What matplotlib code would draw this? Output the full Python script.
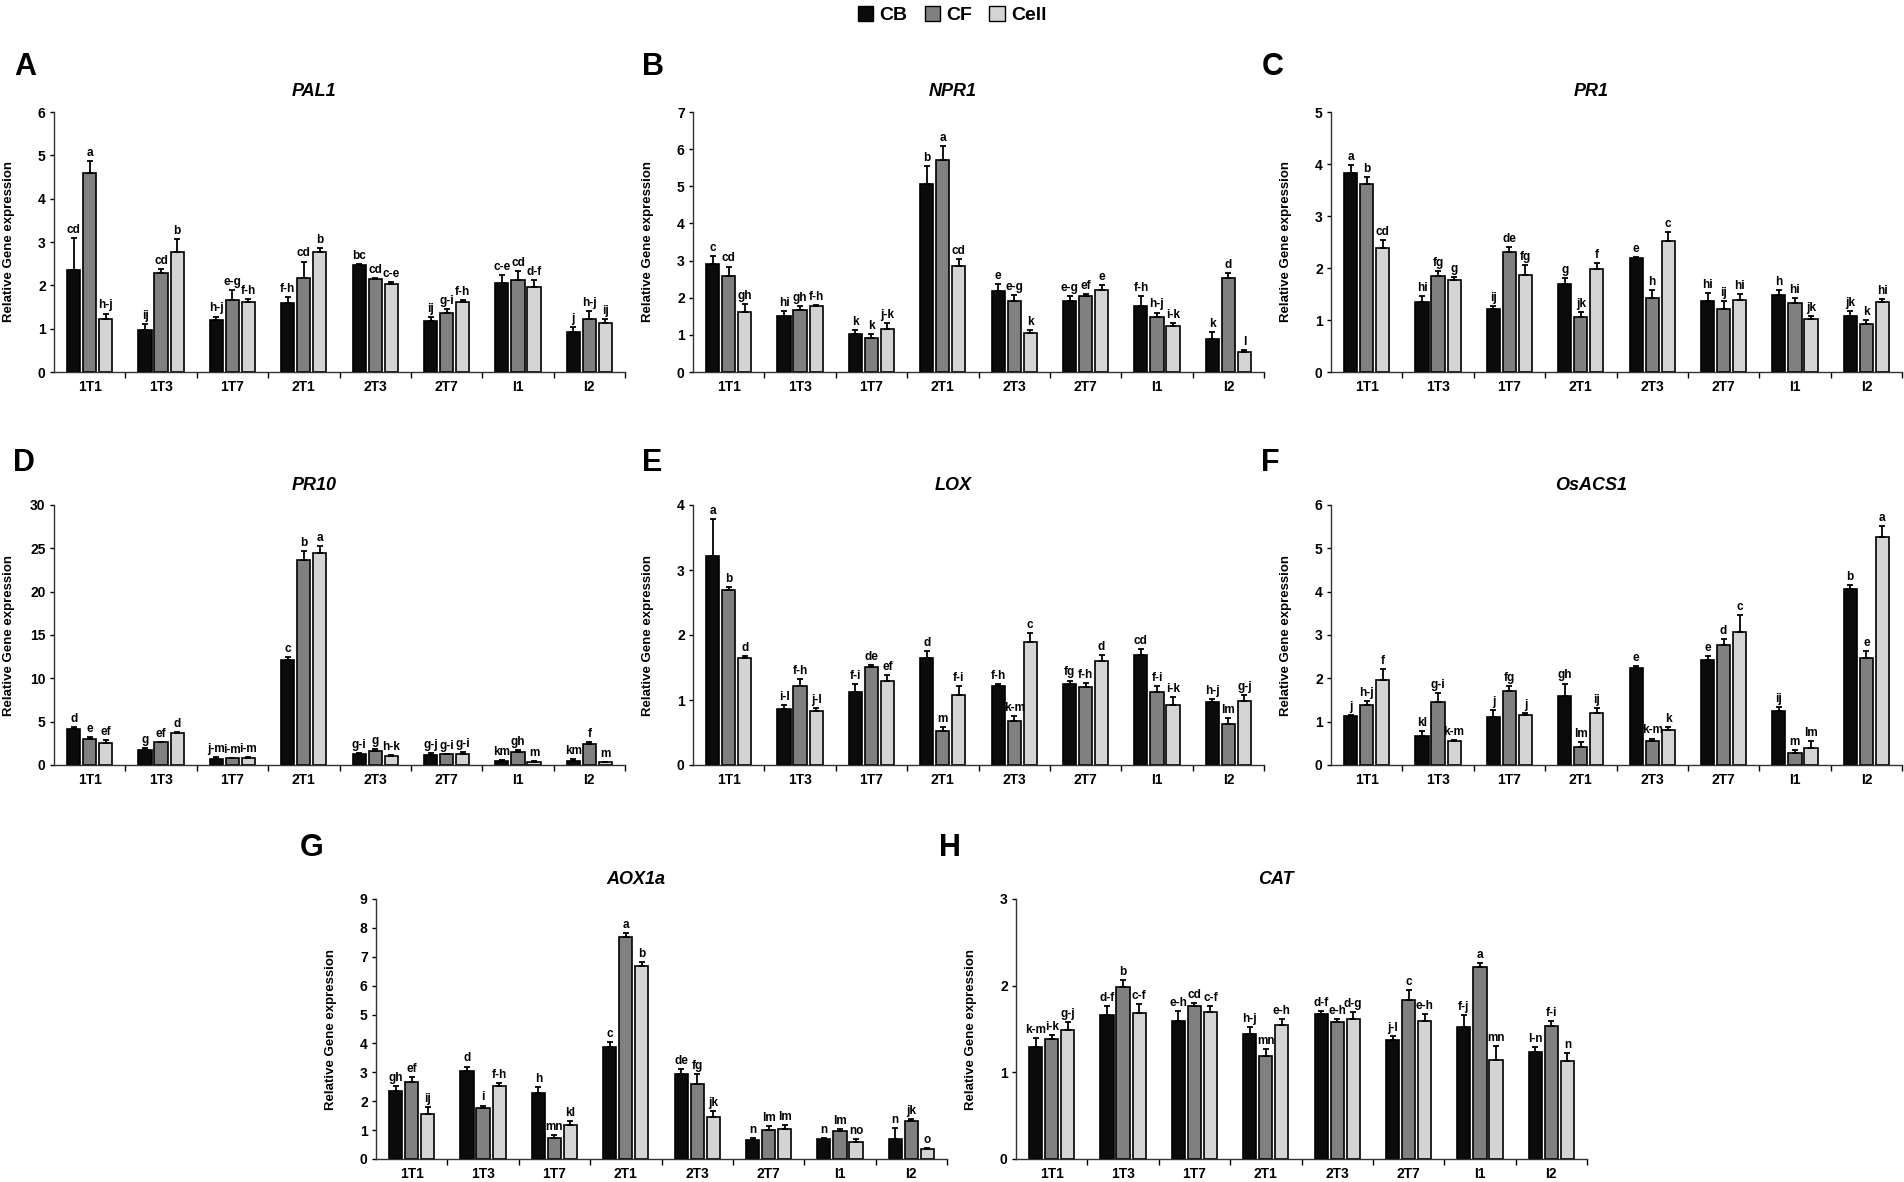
import matplotlib
matplotlib.use("Agg")
import matplotlib.pyplot as plt
from matplotlib import font_manager
from matplotlib.patches import Patch
import numpy as np

groups = ["1T1", "1T3", "1T7", "2T1", "2T3", "2T7", "I1", "I2"]
series = ["CB", "CF", "Cell"]
colors = ["#0b0b0b", "#808080", "#d4d4d4"]

# PAL1
pal1_cb = [2.35, 0.98, 1.21, 1.60, 2.46, 1.17, 2.05, 0.92]
pal1_cf = [4.59, 2.29, 1.67, 2.18, 2.14, 1.37, 2.12, 1.23]
pal1_cell = [1.22, 2.77, 1.62, 2.77, 2.04, 1.62, 1.97, 1.12]
pal1_cb_err = [0.75, 0.13, 0.07, 0.13, 0.04, 0.10, 0.18, 0.12]
pal1_cf_err = [0.28, 0.09, 0.23, 0.37, 0.03, 0.08, 0.20, 0.17]
pal1_cell_err = [0.13, 0.29, 0.07, 0.10, 0.04, 0.05, 0.16, 0.11]
pal1_letters = ["cd", "a", "h-j", "ij", "cd", "b", "h-j", "e-g", "f-h", "f-h", "cd", "b",
                "bc", "cd", "c-e", "ij", "g-i", "f-h", "c-e", "cd", "d-f", "j", "h-j", "ij"]

# NPR1
npr1_cb = [2.91, 1.52, 1.03, 5.07, 2.19, 1.91, 1.79, 0.90]
npr1_cf = [2.59, 1.68, 0.92, 5.70, 1.91, 2.05, 1.48, 2.54]
npr1_cell = [1.61, 1.79, 1.16, 2.86, 1.06, 2.20, 1.23, 0.55]
npr1_cb_err = [0.20, 0.13, 0.09, 0.48, 0.19, 0.13, 0.26, 0.18]
npr1_cf_err = [0.25, 0.09, 0.09, 0.38, 0.16, 0.05, 0.12, 0.12]
npr1_cell_err = [0.21, 0.02, 0.17, 0.17, 0.06, 0.15, 0.09, 0.05]
npr1_letters = ["c", "cd", "gh", "hi", "gh", "f-h", "k", "k", "j-k", "b", "a", "cd",
                "e", "e-g", "k", "e-g", "ef", "e", "f-h", "h-j", "i-k", "k", "d", "l"]

# PR1
pr1_cb = [3.82, 1.35, 1.21, 1.70, 2.20, 1.36, 1.49, 1.08]
pr1_cf = [3.61, 1.84, 2.30, 1.05, 1.43, 1.21, 1.32, 0.93]
pr1_cell = [2.39, 1.76, 1.87, 1.98, 2.52, 1.39, 1.01, 1.35]
pr1_cb_err = [0.16, 0.11, 0.06, 0.11, 0.01, 0.16, 0.09, 0.10]
pr1_cf_err = [0.14, 0.11, 0.10, 0.10, 0.14, 0.16, 0.11, 0.07]
pr1_cell_err = [0.14, 0.06, 0.18, 0.11, 0.18, 0.11, 0.06, 0.06]
pr1_letters = ["a", "b", "cd", "hi", "fg", "g", "ij", "de", "fg", "g", "jk", "f",
               "e", "h", "c", "hi", "ij", "hi", "h", "hi", "jk", "jk", "k", "hi"]

# PR10
pr10_cb = [4.10, 1.69, 0.65, 12.16, 1.23, 1.15, 0.50, 0.46]
pr10_cf = [3.03, 2.61, 0.77, 23.67, 1.65, 1.23, 1.53, 2.38]
pr10_cell = [2.53, 3.64, 0.81, 24.43, 1.00, 1.30, 0.38, 0.31]
pr10_cb_err = [0.31, 0.23, 0.23, 0.34, 0.15, 0.23, 0.11, 0.23]
pr10_cf_err = [0.23, 0.04, 0.07, 1.07, 0.23, 0.07, 0.23, 0.31]
pr10_cell_err = [0.31, 0.20, 0.07, 0.81, 0.15, 0.20, 0.08, 0.07]
pr10_letters = ["d", "e", "ef", "g", "ef", "d", "j-m", "i-m", "i-m", "c", "b", "a",
                "g-i", "g", "h-k", "g-j", "g-i", "g-i", "km", "gh", "m", "km", "f", "m"]

# LOX
lox_cb = [3.22, 0.86, 1.13, 1.65, 1.21, 1.24, 1.69, 0.97]
lox_cf = [2.70, 1.21, 1.51, 0.53, 0.68, 1.20, 1.12, 0.63]
lox_cell = [1.64, 0.83, 1.29, 1.08, 1.90, 1.60, 0.92, 0.99]
lox_cb_err = [0.57, 0.06, 0.11, 0.11, 0.04, 0.06, 0.10, 0.05]
lox_cf_err = [0.04, 0.11, 0.03, 0.06, 0.08, 0.06, 0.09, 0.09]
lox_cell_err = [0.04, 0.05, 0.09, 0.13, 0.13, 0.09, 0.13, 0.09]
lox_letters = ["a", "b", "d", "i-l", "f-h", "j-l", "f-i", "de", "ef", "d", "m", "f-i",
               "f-h", "k-m", "c", "fg", "f-h", "d", "cd", "f-i", "i-k", "h-j", "lm", "g-j"]

# OsACS1
acs1_cb = [1.14, 0.68, 1.11, 1.60, 2.25, 2.43, 1.24, 4.06]
acs1_cf = [1.39, 1.46, 1.71, 0.42, 0.55, 2.76, 0.27, 2.47]
acs1_cell = [1.97, 0.55, 1.16, 1.21, 0.81, 3.08, 0.40, 5.26]
acs1_cb_err = [0.02, 0.11, 0.16, 0.28, 0.03, 0.08, 0.10, 0.10]
acs1_cf_err = [0.08, 0.21, 0.12, 0.12, 0.06, 0.14, 0.08, 0.16]
acs1_cell_err = [0.25, 0.03, 0.03, 0.11, 0.07, 0.38, 0.15, 0.25]
acs1_letters = ["j", "h-j", "f", "kl", "g-i", "k-m", "j", "fg", "j", "gh", "lm", "ij",
                "e", "k-m", "k", "e", "d", "c", "ij", "m", "lm", "b", "e", "a"]

# AOX1a
aox_cb = [2.37, 3.05, 2.27, 3.89, 2.93, 0.67, 0.69, 0.69]
aox_cf = [2.66, 1.75, 0.73, 7.70, 2.58, 1.00, 0.98, 1.30]
aox_cell = [1.56, 2.53, 1.19, 6.67, 1.44, 1.04, 0.58, 0.36]
aox_cb_err = [0.14, 0.15, 0.23, 0.16, 0.18, 0.07, 0.04, 0.38]
aox_cf_err = [0.19, 0.10, 0.11, 0.12, 0.35, 0.14, 0.07, 0.08]
aox_cell_err = [0.24, 0.11, 0.11, 0.14, 0.23, 0.15, 0.11, 0.02]
aox_letters = ["gh", "ef", "ij", "d", "i", "f-h", "h", "mn", "kl", "c", "a", "b",
               "de", "fg", "jk", "n", "lm", "lm", "n", "lm", "no", "n", "jk", "o"]

# CAT
cat_cb = [1.29, 1.66, 1.59, 1.44, 1.67, 1.37, 1.52, 1.23]
cat_cf = [1.39, 1.99, 1.76, 1.19, 1.58, 1.84, 2.22, 1.53]
cat_cell = [1.49, 1.69, 1.70, 1.55, 1.61, 1.59, 1.14, 1.13]
cat_cb_err = [0.11, 0.10, 0.12, 0.08, 0.04, 0.05, 0.14, 0.06]
cat_cf_err = [0.04, 0.07, 0.04, 0.08, 0.03, 0.11, 0.04, 0.06]
cat_cell_err = [0.09, 0.10, 0.06, 0.06, 0.09, 0.08, 0.16, 0.09]
cat_letters = ["k-m", "i-k", "g-j", "d-f", "b", "c-f", "e-h", "cd", "c-f", "h-j", "mn", "e-h",
               "d-f", "e-h", "d-g", "j-l", "c", "e-h", "f-j", "a", "mn", "l-n", "f-i", "n"]

panels = [
    ("A", "PAL1", 6, 1, (pal1_cb, pal1_cf, pal1_cell), (pal1_cb_err, pal1_cf_err, pal1_cell_err), pal1_letters),
    ("B", "NPR1", 7, 1, (npr1_cb, npr1_cf, npr1_cell), (npr1_cb_err, npr1_cf_err, npr1_cell_err), npr1_letters),
    ("C", "PR1", 5, 1, (pr1_cb, pr1_cf, pr1_cell), (pr1_cb_err, pr1_cf_err, pr1_cell_err), pr1_letters),
    ("D", "PR10", 30, 5, (pr10_cb, pr10_cf, pr10_cell), (pr10_cb_err, pr10_cf_err, pr10_cell_err), pr10_letters),
    ("E", "LOX", 4, 1, (lox_cb, lox_cf, lox_cell), (lox_cb_err, lox_cf_err, lox_cell_err), lox_letters),
    ("F", "OsACS1", 6, 1, (acs1_cb, acs1_cf, acs1_cell), (acs1_cb_err, acs1_cf_err, acs1_cell_err), acs1_letters),
    ("G", "AOX1a", 9, 1, (aox_cb, aox_cf, aox_cell), (aox_cb_err, aox_cf_err, aox_cell_err), aox_letters),
    ("H", "CAT", 3, 1, (cat_cb, cat_cf, cat_cell), (cat_cb_err, cat_cf_err, cat_cell_err), cat_letters),
]

# axes boxes in pixels: left spine x, top y
W, H = 1904, 1182
AX_W, AX_H = 571, 260
boxes = {
    "A": (54, 112), "B": (693, 112), "C": (1331, 112),
    "D": (54, 505), "E": (693, 505), "F": (1331, 505),
    "G": (376, 899), "H": (1016, 899),
}
letter_pos = {
    "A": (25, 67), "B": (653, 67), "C": (1273, 67),
    "D": (24, 463), "E": (652, 463), "F": (1270, 463),
    "G": (312, 848), "H": (950, 848),
}

base_font = "Liberation Sans"
names = {f.name for f in font_manager.fontManager.ttflist}
narrow = "Liberation Sans Narrow" if "Liberation Sans Narrow" in names else base_font
plt.rcParams["font.family"] = [base_font, "DejaVu Sans"]

fig = plt.figure(figsize=(W / 100, H / 100), dpi=100)

x = np.arange(len(groups))
offsets = [-0.225, 0.0, 0.225]
bar_w = 0.185

for key, title, ymax, ystep, vals, errs, letters in panels:
    left, top = boxes[key]
    ax = fig.add_axes([left / W, 1 - (top + AX_H) / H, AX_W / W, AX_H / H])
    small_font = base_font if key in "ABC" else narrow
    for i in range(3):
        xs = x + offsets[i]
        v = np.array(vals[i])
        e = np.array(errs[i])
        ax.bar(xs, v, bar_w, color=colors[i], edgecolor="black", linewidth=1.2, zorder=2)
        ax.errorbar(xs, v, yerr=[np.zeros_like(e), e], fmt="none", ecolor="black",
                    elinewidth=1.3, capsize=2.4, capthick=1.3, zorder=3)
        for j in range(len(groups)):
            ax.annotate(letters[j * 3 + i], (xs[j], v[j] + e[j]), xytext=(0, 1.5),
                        textcoords="offset points", ha="center", va="bottom",
                        fontsize=8.5, fontweight="bold", family=small_font)
    ax.set_xlim(-0.5, len(groups) - 0.5)
    ax.set_ylim(0, ymax)
    ax.set_yticks(np.arange(0, ymax + ystep / 2, ystep))
    ax.set_xticks(x)
    ax.set_xticklabels(groups, fontsize=10, fontweight="bold")
    ax.set_xticks(np.arange(0.5, len(groups), 1), minor=True)
    ax.tick_params(axis="x", which="major", length=0, pad=6)
    ax.tick_params(axis="x", which="minor", length=4, width=1, direction="out")
    ax.tick_params(axis="y", length=3, width=1, direction="out", labelsize=10, pad=3)
    for lab in ax.get_yticklabels():
        lab.set_fontweight("bold")
    for pos in ["top", "right"]:
        ax.spines[pos].set_visible(False)
    for pos in ["left", "bottom"]:
        ax.spines[pos].set_linewidth(1.0)
        ax.spines[pos].set_color("#333333")
    ax.set_ylabel("Relative Gene expression", fontsize=9.5, fontweight="bold")
    ax.yaxis.set_label_coords(-0.068, 0.5)
    ax.text(0.455, 1 + 20 / AX_H, title, transform=ax.transAxes, ha="center", va="center",
            fontsize=13, fontweight="bold", style="italic")
    lx, ly = letter_pos[key]
    fig.text(lx / W, 1 - ly / H, key, ha="center", va="center", fontsize=22, fontweight="bold")

handles = [Patch(facecolor=c, edgecolor="black", linewidth=1.0) for c in colors]
fig.legend(handles, series, loc="center", bbox_to_anchor=(0.5, 1 - 15 / H), ncol=3,
           frameon=False, prop={"size": 14, "weight": "bold"}, handlelength=0.8,
           handleheight=0.8, handletextpad=0.3, columnspacing=0.9, borderpad=0)

fig.savefig("out.png", dpi=100)
